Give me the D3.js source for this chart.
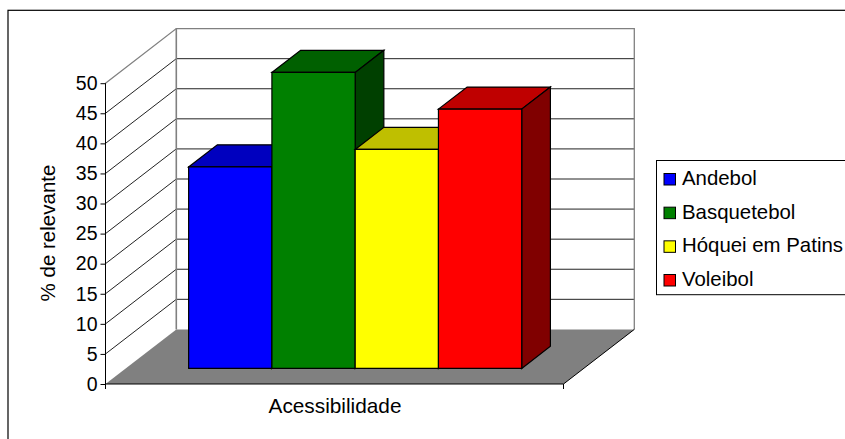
<!DOCTYPE html>
<html>
<head>
<meta charset="utf-8">
<script src="https://cdn.jsdelivr.net/npm/d3@7"></script>
<style>
html,body{margin:0;padding:0;background:#fff;overflow:hidden;}
svg{display:block;}
text{font-family:"Liberation Sans",Arial,sans-serif;fill:#000;}
</style>
</head>
<body>
<svg id="chart" width="845" height="439"></svg>
<script>
const categoryLabel = "Acessibilidade";
const seriesNames = ["Andebol", "Basquetebol", "Hóquei em Patins", "Voleibol"];
const seriesValues = [33.5, 49.2, 36.4, 43.1];
const frontColors = ["#0000ff", "#008000", "#ffff00", "#ff0000"];
const topColors = ["#0000bf", "#006000", "#bfbf00", "#bf0000"];
const sideColors = ["#000080", "#004000", "#808000", "#800000"];
const yTicks = [0, 5, 10, 15, 20, 25, 30, 35, 40, 45, 50];

const svg = d3.select("#chart");

// Front plane of the plot box, with the oblique shift towards the back wall
const y = d3.scaleLinear().domain([0, 50]).range([384, 83.2]);
const x = d3.scaleLinear().domain([0, 1]).range([105.5, 563.5]);
const depthX = d3.scaleLinear().domain([0, 1]).range([0, 70.8]);
const depthY = d3.scaleLinear().domain([0, 1]).range([0, -54.6]);
const project = (fx, v, d) => [x(fx) + depthX(d), y(v) + depthY(d)];
const path = pts => "M" + pts.map(p => p.join(",")).join("L") + "Z";

// Bars stand in the middle slice of the floor depth
const barDepthStart = 0.285, barDepthEnd = 0.69;
const band = d3.scaleBand().domain(seriesNames).range([0, 1])
  .paddingInner(0).paddingOuter(0.75).align(0.504);

// Chart frame runs past the right and bottom of the page
svg.append("rect").attr("x", 8).attr("y", 10.3).attr("width", 900).attr("height", 500)
  .attr("fill", "#fff").attr("stroke", "#000").attr("stroke-width", 1.2);

// Floor
svg.append("path")
  .attr("d", path([project(0,0,0), project(1,0,0), project(1,0,1), project(0,0,1)]))
  .attr("fill", "#808080");

// Side wall and back wall gridlines
const gridColor = "#222";
svg.append("g").selectAll("path").data(yTicks.slice(1, -1)).join("path")
  .attr("d", v => d3.line()([project(0,v,0), project(0,v,1), project(1,v,1)]))
  .attr("fill", "none").attr("stroke", gridColor).attr("stroke-width", 1);

// Wall outlines
svg.append("path")
  .attr("d", d3.line()([project(0,50,0), project(0,50,1), project(1,50,1), project(1,0,1)]))
  .attr("fill", "none").attr("stroke", "#808080").attr("stroke-width", 1.3);
svg.append("path")
  .attr("d", d3.line()([project(0,50,1), project(0,0,1)]))
  .attr("fill", "none").attr("stroke", "#808080").attr("stroke-width", 1.6);

// Floor right edge
svg.append("path")
  .attr("d", d3.line()([project(1,0,1), project(1,0,0)]))
  .attr("fill", "none").attr("stroke", "#000").attr("stroke-width", 1);

// Bars, drawn left to right so each front covers its neighbour's side
const bars = svg.append("g").selectAll("g")
  .data(seriesNames.map((name, i) => ({name, i, value: seriesValues[i]})))
  .join("g")
  .attr("stroke", "#000").attr("stroke-width", 1.2).attr("stroke-linejoin", "miter");
bars.append("path").attr("d", d => {
  const a = band(d.name), b = a + band.bandwidth();
  return path([project(a,d.value,barDepthStart), project(b,d.value,barDepthStart),
               project(b,d.value,barDepthEnd), project(a,d.value,barDepthEnd)]);
}).attr("fill", d => topColors[d.i]);
bars.append("path").attr("d", d => {
  const b = band(d.name) + band.bandwidth();
  return path([project(b,0,barDepthStart), project(b,d.value,barDepthStart),
               project(b,d.value,barDepthEnd), project(b,0,barDepthEnd)]);
}).attr("fill", d => sideColors[d.i]);
bars.append("path").attr("d", d => {
  const a = band(d.name), b = a + band.bandwidth();
  return path([project(a,0,barDepthStart), project(b,0,barDepthStart),
               project(b,d.value,barDepthStart), project(a,d.value,barDepthStart)]);
}).attr("fill", d => frontColors[d.i]);

// Value axis
const yAxis = svg.append("g").attr("transform", `translate(${x(0)},0)`)
  .call(d3.axisLeft(y).tickValues(yTicks).tickSize(5).tickPadding(3));
yAxis.selectAll("path, line").attr("stroke", "#000");
yAxis.select(".domain").attr("d", `M0,${y(0)}V${y(50)}`);
yAxis.selectAll("text").attr("font-size", 19.5).attr("font-family", '"Liberation Sans",Arial,sans-serif');

// Category axis
svg.append("path")
  .attr("d", `M${x(0)},${y(0)}H${x(1)}M${x(0)},${y(0)}v5M${x(1)},${y(0)}v5`)
  .attr("fill", "none").attr("stroke", "#000").attr("stroke-width", 1);
svg.append("text").attr("x", x(0.5) + 0.5).attr("y", 413).attr("text-anchor", "middle")
  .attr("font-size", 20.8).text(categoryLabel);

// Axis title
svg.append("text").attr("transform", "translate(55,233) rotate(-90)")
  .attr("text-anchor", "middle").attr("font-size", 20.5).text("% de relevante");

// Legend box runs past the right of the page
const legendRow = d3.scalePoint().domain(seriesNames).range([179, 280]);
svg.append("rect").attr("x", 656.5).attr("y", 160.5).attr("width", 250).attr("height", 134.2)
  .attr("fill", "#fff").attr("stroke", "#000");
const legend = svg.append("g").selectAll("g").data(seriesNames).join("g")
  .attr("transform", d => `translate(0,${legendRow(d)})`);
legend.append("rect").attr("x", 664).attr("y", -5.5).attr("width", 11.5).attr("height", 11.5)
  .attr("fill", (d, i) => frontColors[i]).attr("stroke", "#000").attr("stroke-width", 1);
legend.append("text").attr("x", 682).attr("y", 6).attr("font-size", 20.4).text(d => d);
</script>
</body>
</html>
